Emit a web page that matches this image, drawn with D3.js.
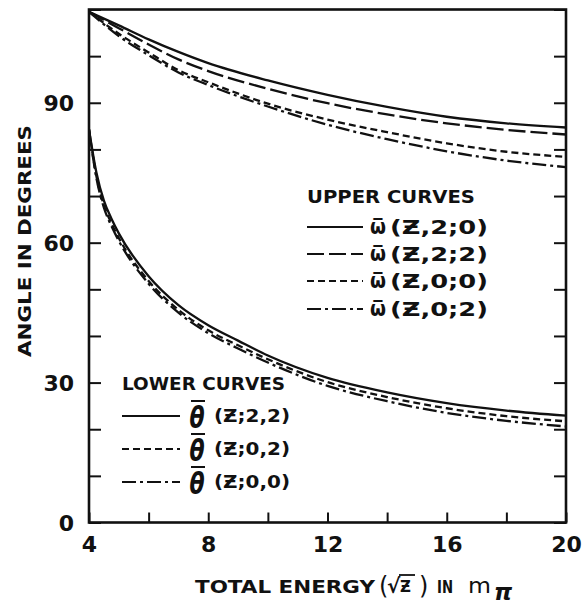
<!DOCTYPE html>
<html>
<head>
<meta charset="utf-8">
<script src="https://cdn.jsdelivr.net/npm/d3@7"></script>
<style>
  body { margin: 0; background: #fff; }
  text { font-family: "DejaVu Sans", sans-serif; font-weight: bold; fill: #111; }
</style>
</head>
<body>
<div id="chart"></div>
<script>
// total energy sqrt(z) in units of m_pi
const energyUpper = [4, 5, 6, 7, 8, 10, 12, 14, 16, 18, 20];
const omegaZ20 = [109.5, 106.6, 103.6, 100.9, 98.5, 94.8, 91.7, 89.1, 87.0, 85.6, 84.7];
const omegaZ22 = [109.5, 106.0, 102.5, 99.3, 96.8, 93.0, 89.9, 87.5, 85.6, 84.2, 83.2];
const omegaZ00 = [109.5, 104.8, 100.8, 97.0, 94.4, 89.8, 86.4, 83.7, 81.3, 79.5, 78.4];
const omegaZ02 = [109.5, 104.3, 100.2, 96.5, 93.8, 89.2, 85.3, 82.2, 79.6, 77.6, 76.2];

const energyLower = [4, 4.25, 4.5, 4.75, 5, 6, 7, 8, 9, 10, 12, 14, 16, 18, 20];
const thetaZ22 = [84.3, 75.0, 69.0, 65.2, 62.0, 52.8, 46.6, 42.3, 39.0, 35.8, 31.0, 27.9, 25.6, 24.0, 22.9];
const thetaZ02 = [84.3, 74.2, 68.0, 64.2, 61.0, 51.8, 45.6, 41.2, 38.0, 35.0, 30.1, 26.9, 24.5, 22.8, 21.7];
const thetaZ00 = [84.3, 73.8, 67.5, 63.6, 60.4, 51.2, 45.0, 40.6, 37.3, 34.3, 29.3, 26.0, 23.5, 21.8, 20.6];

const upperLabels = ['(Ƶ,2;0)', '(Ƶ,2;2)', '(Ƶ,0;0)', '(Ƶ,0;2)'];
const lowerLabels = ['(Ƶ;2,2)', '(Ƶ;0,2)', '(Ƶ;0,0)'];

const xTickLabels = [4, 8, 12, 16, 20];
const yTickLabels = [0, 30, 60, 90];

const width = 584, height = 605;

const svg = d3.select('#chart').append('svg')
  .attr('width', width)
  .attr('height', height);

const x = d3.scaleLinear().domain([4, 20]).range([89, 566]);
const y = d3.scaleLinear().domain([0, 110]).range([522.5, 9.5]);

// dash styles
const styles = {
  solid: null,
  longDash: '17,5',
  shortDash: '7,4',
  dashDot: '14,4,3,4'
};

const upperSeries = [
  { values: omegaZ20, dash: styles.solid },
  { values: omegaZ22, dash: styles.longDash },
  { values: omegaZ00, dash: styles.shortDash },
  { values: omegaZ02, dash: styles.dashDot }
];
const lowerSeries = [
  { values: thetaZ22, dash: styles.solid },
  { values: thetaZ02, dash: styles.shortDash },
  { values: thetaZ00, dash: styles.dashDot }
];

// axes (ticks point inward)
const yTickVals = d3.range(0, 111, 10);
svg.append('g')
  .attr('transform', `translate(${x(4)},0)`)
  .call(d3.axisLeft(y).tickValues(yTickVals).tickSize(-12).tickPadding(15)
    .tickFormat(d => yTickLabels.includes(d) ? d : ''))
  .call(g => g.select('.domain').remove())
  .call(g => g.selectAll('line').attr('stroke', '#111').attr('stroke-width', 2))
  .call(g => g.selectAll('text').attr('font-size', 22).attr('dy', '0.36em'));

svg.append('g')
  .attr('transform', `translate(${x(20)},0)`)
  .call(d3.axisRight(y).tickValues(yTickVals).tickSize(-12).tickFormat(''))
  .call(g => g.select('.domain').remove())
  .call(g => g.selectAll('line').attr('stroke', '#111').attr('stroke-width', 2));

svg.append('g')
  .attr('transform', `translate(0,${y(0)})`)
  .call(d3.axisBottom(x).tickValues(d3.range(4, 21, 2)).tickSize(-10).tickPadding(10)
    .tickFormat(d => xTickLabels.includes(d) ? d : ''))
  .call(g => g.select('.domain').remove())
  .call(g => g.selectAll('line').attr('stroke', '#111').attr('stroke-width', 2))
  .call(g => g.selectAll('text').attr('font-size', 22).attr('dy', '0.9em'));

// frame
svg.append('rect')
  .attr('x', x(4)).attr('y', y(110))
  .attr('width', x(20) - x(4)).attr('height', y(0) - y(110))
  .attr('fill', 'none').attr('stroke', '#111').attr('stroke-width', 2.6);

// curves
svg.append('clipPath').attr('id', 'plot-clip')
  .append('rect')
  .attr('x', x(4)).attr('y', y(110))
  .attr('width', x(20) - x(4)).attr('height', y(0) - y(110));

function drawSeries(energy, series) {
  const line = d3.line()
    .x((d, i) => x(energy[i]))
    .y(d => y(d))
    .curve(d3.curveMonotoneX);
  svg.append('g').attr('clip-path', 'url(#plot-clip)')
    .selectAll('path')
    .data(series)
    .join('path')
    .attr('d', s => line(s.values))
    .attr('fill', 'none')
    .attr('stroke', '#111')
    .attr('stroke-width', 2.3)
    .attr('stroke-dasharray', s => s.dash);
}
drawSeries(energyUpper, upperSeries);
drawSeries(energyLower, lowerSeries);

// upper legend
const upLeg = svg.append('g');
upLeg.append('text')
  .attr('x', 307).attr('y', 203)
  .attr('font-size', 18)
  .attr('textLength', 168).attr('lengthAdjust', 'spacingAndGlyphs')
  .text('UPPER  CURVES');
const upRows = [227, 254, 281, 309];
upperSeries.forEach((s, i) => {
  const ry = upRows[i];
  upLeg.append('line')
    .attr('x1', 307).attr('x2', 363).attr('y1', ry).attr('y2', ry)
    .attr('stroke', '#111').attr('stroke-width', 2.2)
    .attr('stroke-dasharray', s.dash);
  upLeg.append('text')
    .attr('x', 370).attr('y', ry + 7)
    .attr('font-size', 21)
    .attr('textLength', 16).attr('lengthAdjust', 'spacingAndGlyphs')
    .text('ω\u0305');
  upLeg.append('text')
    .attr('x', 390).attr('y', ry + 7)
    .attr('font-size', 19)
    .attr('textLength', 98).attr('lengthAdjust', 'spacingAndGlyphs')
    .text(upperLabels[i]);
});

// lower legend
const loLeg = svg.append('g');
loLeg.append('text')
  .attr('x', 122).attr('y', 390)
  .attr('font-size', 18)
  .attr('textLength', 163).attr('lengthAdjust', 'spacingAndGlyphs')
  .text('LOWER  CURVES');
const loRows = [416, 449, 482];
lowerSeries.forEach((s, i) => {
  const ry = loRows[i];
  loLeg.append('line')
    .attr('x1', 122).attr('x2', 180).attr('y1', ry).attr('y2', ry)
    .attr('stroke', '#111').attr('stroke-width', 2.2)
    .attr('stroke-dasharray', s.dash);
  loLeg.append('text')
    .attr('transform', `translate(197,${ry + 12}) scale(1,1.4)`)
    .attr('text-anchor', 'middle')
    .attr('font-size', 22).style('font-style', 'italic')
    .text('θ');
  loLeg.append('line')
    .attr('x1', 191).attr('x2', 205).attr('y1', ry - 15).attr('y2', ry - 15)
    .attr('stroke', '#111').attr('stroke-width', 2);
  loLeg.append('text')
    .attr('x', 214).attr('y', ry + 6)
    .attr('font-size', 18)
    .attr('textLength', 76).attr('lengthAdjust', 'spacingAndGlyphs')
    .text(lowerLabels[i]);
});

// y axis title
svg.append('text')
  .attr('transform', 'translate(31,241) rotate(-90)')
  .attr('text-anchor', 'middle')
  .attr('font-size', 18)
  .attr('textLength', 232).attr('lengthAdjust', 'spacingAndGlyphs')
  .text('ANGLE  IN  DEGREES');

// x axis title
const xt = svg.append('g');
xt.append('text').attr('x', 195).attr('y', 593)
  .attr('font-size', 17).attr('textLength', 180).attr('lengthAdjust', 'spacingAndGlyphs')
  .text('TOTAL  ENERGY');
xt.append('text').attr('x', 379).attr('y', 594).attr('font-size', 24).style('font-weight', 'normal').text('(');
xt.append('text').attr('x', 387).attr('y', 593).attr('font-size', 20).text('√');
xt.append('line').attr('x1', 399).attr('x2', 415).attr('y1', 575).attr('y2', 575)
  .attr('stroke', '#111').attr('stroke-width', 1.8);
xt.append('text').attr('x', 400).attr('y', 592).attr('font-size', 15).text('Ƶ');
xt.append('text').attr('x', 419).attr('y', 594).attr('font-size', 24).style('font-weight', 'normal').text(')');
xt.append('text').attr('x', 437).attr('y', 593).attr('font-size', 17)
  .attr('textLength', 16).attr('lengthAdjust', 'spacingAndGlyphs').text('IN');
xt.append('text').attr('x', 468).attr('y', 593).attr('font-size', 21).style('font-weight', 'normal')
  .attr('textLength', 23).attr('lengthAdjust', 'spacingAndGlyphs').text('m');
xt.append('text').attr('x', 494).attr('y', 600).attr('font-size', 23).style('font-style', 'italic').text('π');
</script>
</body>
</html>
